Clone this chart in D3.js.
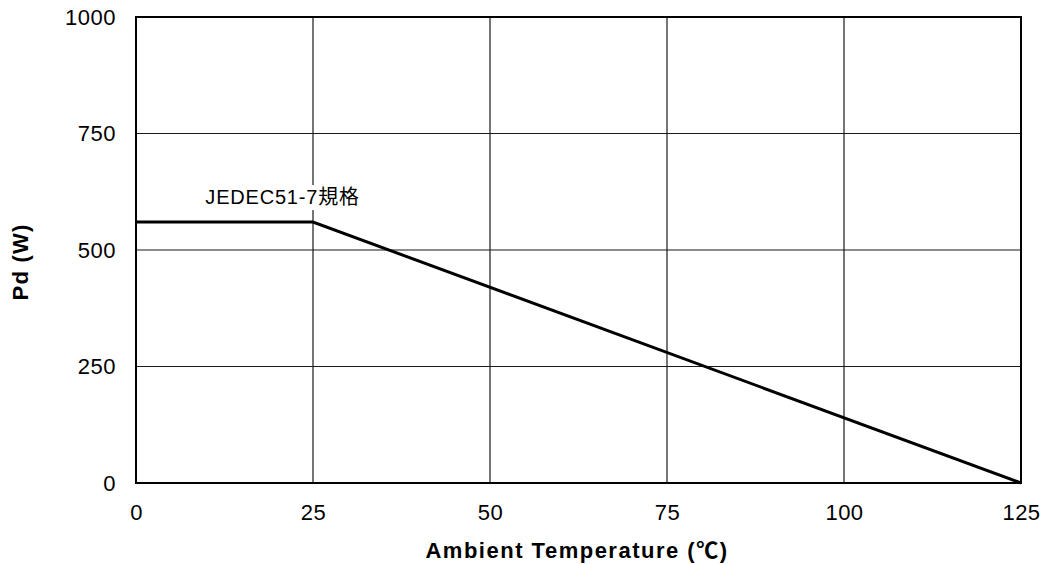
<!DOCTYPE html>
<html>
<head>
<meta charset="utf-8">
<script src="https://cdn.jsdelivr.net/npm/d3@7"></script>
<style>
  body { margin: 0; background: #fff; }
  text { font-family: "Liberation Sans", Arial, "Noto Sans CJK JP", sans-serif; fill: #000; }
</style>
</head>
<body>
<div id="root"></div>
<script>
// data
var tempC = [0, 25, 125];
var powerW = [560, 560, 0];
var xTicks = [0, 25, 50, 75, 100, 125];
var yTicks = [0, 250, 500, 750, 1000];
var curveLabel = "JEDEC51-7規格";

var margin = { top: 17, right: 24, bottom: 81, left: 136 };
var width = 1045 - margin.left - margin.right;
var height = 564 - margin.top - margin.bottom;

var svg = d3.select("#root")
    .append("svg")
    .attr("width", 1045)
    .attr("height", 564);

var graph = svg.append("g")
    .attr("transform", "translate(" + margin.left + "," + margin.top + ")");

var x = d3.scaleLinear().domain([0, 125]).range([0, width]);
var y = d3.scaleLinear().domain([0, 1000]).range([height, 0]);

// grid
graph.append("g")
    .selectAll("line")
    .data(xTicks)
    .join("line")
    .attr("x1", d => x(d)).attr("x2", d => x(d))
    .attr("y1", 0).attr("y2", height)
    .attr("stroke", "#1a1a1a").attr("stroke-width", 1.2);

graph.append("g")
    .selectAll("line")
    .data(yTicks)
    .join("line")
    .attr("x1", 0).attr("x2", width)
    .attr("y1", d => y(d)).attr("y2", d => y(d))
    .attr("stroke", "#1a1a1a").attr("stroke-width", 1.2);

// frame
graph.append("rect")
    .attr("width", width).attr("height", height)
    .attr("fill", "none").attr("stroke", "#000").attr("stroke-width", 2);

// axes (tick labels only)
var xAxis = graph.append("g")
    .attr("transform", "translate(0," + height + ")")
    .call(d3.axisBottom(x).tickValues(xTicks).tickFormat(d3.format("d")).tickSize(0).tickPadding(21));
var yAxis = graph.append("g")
    .call(d3.axisLeft(y).tickValues(yTicks).tickFormat(d3.format("d")).tickSize(0).tickPadding(20));
[xAxis, yAxis].forEach(a => {
    a.select(".domain").remove();
    a.selectAll("text")
        .attr("font-size", 22)
        .attr("letter-spacing", 0.5)
        .style("font-family", "\"Liberation Sans\", Arial, sans-serif")
        .attr("fill", "#000");
});

// curve label on a white patch (it breaks the 25 °C grid line)
var lbl = graph.append("g");
var lblText = lbl.append("text")
    .attr("x", x(20.7))
    .attr("y", y(560) - 18)
    .attr("text-anchor", "middle")
    .attr("font-size", 20)
    .attr("letter-spacing", 0.8)
    .text(curveLabel);
var bb = lblText.node().getBBox();
lbl.insert("rect", "text")
    .attr("x", bb.x - 4).attr("y", bb.y - 1)
    .attr("width", bb.width + 8).attr("height", bb.height + 3)
    .attr("fill", "#fff");

// derating curve
graph.append("path")
    .datum(tempC.map((t, i) => [t, powerW[i]]))
    .attr("fill", "none")
    .attr("stroke", "#000")
    .attr("stroke-width", 3)
    .attr("d", d3.line().x(d => x(d[0])).y(d => y(d[1])));

// axis titles
svg.append("text")
    .attr("x", 577)
    .attr("y", 558)
    .attr("text-anchor", "middle")
    .attr("font-size", 22)
    .attr("font-weight", "bold")
    .attr("letter-spacing", 1.5)
    .text("Ambient Temperature (℃)");

svg.append("text")
    .attr("transform", "translate(28,262) rotate(-90)")
    .attr("text-anchor", "middle")
    .attr("font-size", 22)
    .attr("font-weight", "bold")
    .attr("letter-spacing", 1.2)
    .text("Pd (W)");
</script>
</body>
</html>
